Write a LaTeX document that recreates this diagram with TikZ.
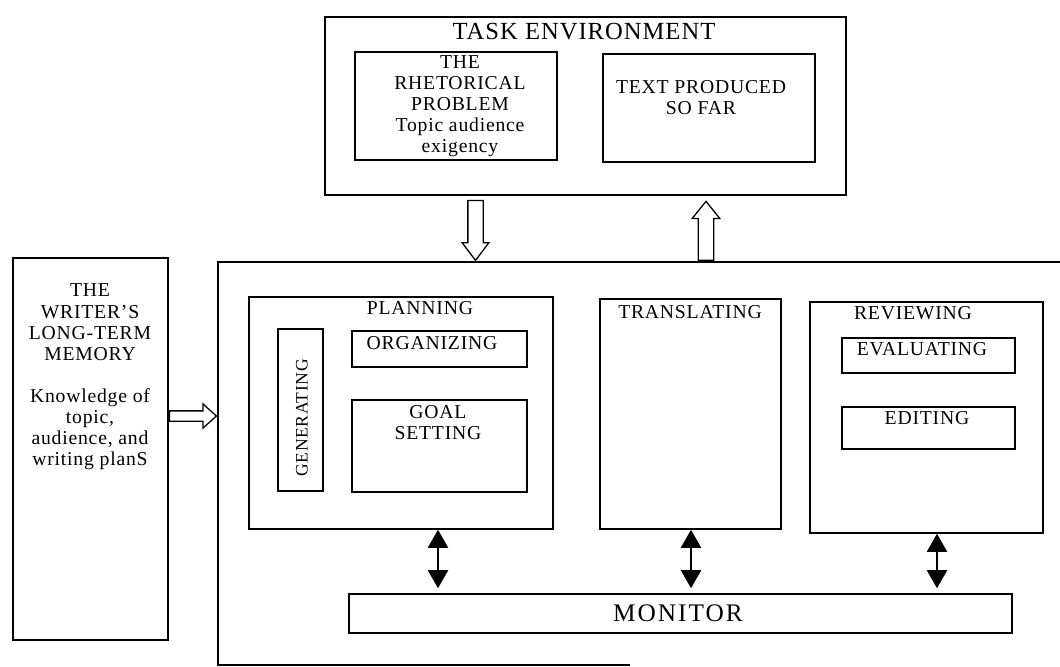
\documentclass[tikz,border=0pt]{standalone}
\usepackage{fontspec}
\setmainfont{Liberation Serif}[LetterSpace=4]
\usetikzlibrary{arrows.meta,positioning,shapes.arrows,fit,calc}

\begin{document}
\begin{tikzpicture}[
    x=0.025cm, y=-0.025cm,
    box/.style={draw, line width=1.1pt, inner sep=0pt},
    tag/.style={inner sep=0pt, align=center, font=\fontsize{14}{15}\selectfont},
    bigtag/.style={inner sep=0pt, font=\fontsize{17.5}{20}\selectfont},
    hollow/.style={single arrow, draw, line width=0.9pt, inner xsep=0pt, anchor=tail},
    biarrow/.style={{Triangle[width=0.5cm,length=0.45cm]}-{Triangle[width=0.5cm,length=0.45cm]}, line width=1.4pt}
  ]
    \useasboundingbox (0,0) rectangle (1060,666);

    \node[box, fit={(325,17) (846,195)}] (task) {};
    \node[bigtag] (tasktext) at (584,32) {TASK ENVIRONMENT};
    \node[box, fit={(355,52) (557,160)}] (rhet) {};
    \node[tag] (rhettext) at (460,106) {THE\\RHETORICAL\\PROBLEM\\Topic audience\\exigency};
    \node[box, fit={(603,54) (815,162)}] (sofar) {};
    \node[tag] (sofartext) at (701,98) {TEXT PRODUCED\\SO FAR};

    \node[box, fit={(13,258) (168,640)}] (memory) {};
    \node[tag] (memtext) at (90,377) {THE\\WRITER'S\\LONG-TERM\\MEMORY\\[15pt]Knowledge of\\topic,\\audience, and\\writing planS};

    \coordinate (procne) at (1060,262);
    \coordinate (procsw) at (218,665);
    \draw[line width=1.1pt] (procne) -| (procsw) -- ++(412,0);

    \node[box, fit={(249,297) (553,529)}] (plan) {};
    \node[tag] (plantext) at (420,308) {PLANNING};
    \node[box, fit={(278,329) (323,491)}] (gen) {};
    \node[tag, rotate=90, font=\fontsize{12.5}{14}\selectfont] (gentext) at (302,418) {GENERATING};
    \node[box, fit={(352,331) (527,367)}] (org) {};
    \node[tag] (orgtext) at (432,343) {ORGANIZING};
    \node[box, fit={(352,400) (527,492)}] (goal) {};
    \node[tag] (goaltext) at (438,423) {GOAL\\SETTING};

    \node[box, fit={(600,299) (781,529)}] (trans) {};
    \node[tag] (transtext) at (690,312) {TRANSLATING};

    \node[box, fit={(810,302) (1043,533)}] (review) {};
    \node[tag] (reviewtext) at (913,313) {REVIEWING};
    \node[box, fit={(842,338) (1015,373)}] (eval) {};
    \node[tag] (evaltext) at (922,349) {EVALUATING};
    \node[box, fit={(842,407) (1015,449)}] (edit) {};
    \node[tag] (edittext) at (927,418) {EDITING};

    \node[box, fit={(349,594) (1012,633)}] (monitor) {};
    \node[bigtag, font=\fontsize{18}{20}\selectfont\addfontfeature{LetterSpace=8}] (montext) at (678,613) {MONITOR};

    \node[hollow, rotate=-90, minimum height=1.5cm, inner ysep=0.175cm, single arrow head extend=0.14cm, single arrow tip angle=74] (down) at ($(task.south)+(-110,4)$) {};
    \node[hollow, rotate=90, minimum height=1.475cm, inner ysep=0.18cm, single arrow head extend=0.15cm, single arrow tip angle=78] (up) at (706,261) {};
    \node[hollow, minimum height=1.175cm, inner ysep=0.1125cm, single arrow head extend=0.175cm, single arrow tip angle=84] (memarrow) at ($(memory.east)+(0,-33)$) {};

    \draw[biarrow, shorten >=0.125cm] ([xshift=0.925cm]plan.south) -- ([xshift=0.925cm]plan.south |- monitor.north);
    \draw[biarrow, shorten >=0.125cm] ([xshift=0.0125cm]trans.south) -- ([xshift=0.0125cm]trans.south |- monitor.north);
    \draw[biarrow, shorten >=0.125cm] ([xshift=0.2625cm]review.south) -- ([xshift=0.2625cm]review.south |- monitor.north);
  \end{tikzpicture}
\end{document}
